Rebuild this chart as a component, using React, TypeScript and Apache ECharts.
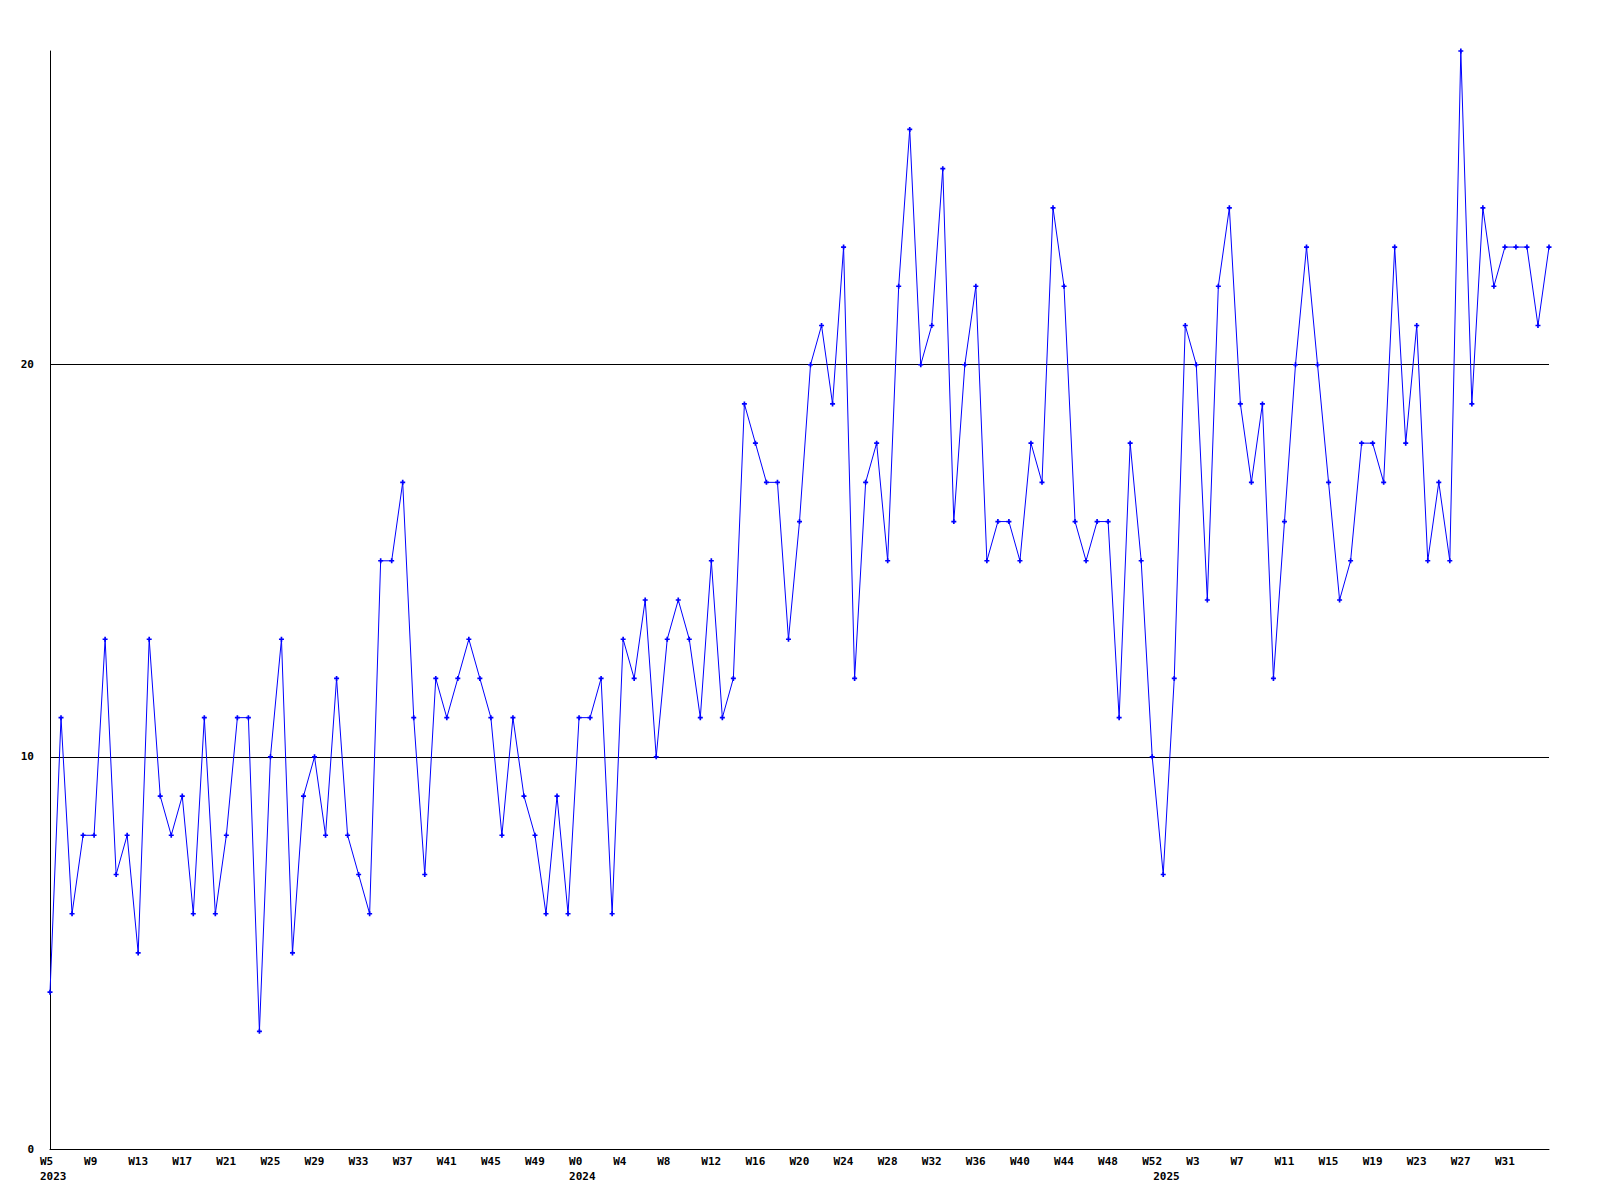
import React, { useEffect, useRef } from "react";
import * as echarts from "echarts";

// Week ranges shown on the x axis (one point per week)
const weekRanges = [
  { year: "2023", first: 5, last: 52 },
  { year: "2024", first: 0, last: 52 },
  { year: "2025", first: 0, last: 35 },
];

// Values, one per week
const values2023 = [
  4, 11, 6, 8, 8, 13, 7, 8, 5, 13, 9, 8, 9, 6, 11, 6, 8, 11, 11, 3, 10, 13, 5, 9,
  10, 8, 12, 8, 7, 6, 15, 15, 17, 11, 7, 12, 11, 12, 13, 12, 11, 8, 11, 9, 8, 6, 9, 6,
];
const values2024 = [
  11, 11, 12, 6, 13, 12, 14, 10, 13, 14, 13, 11, 15, 11, 12, 19, 18, 17, 17, 13,
  16, 20, 21, 19, 23, 12, 17, 18, 15, 22, 26, 20, 21, 25, 16, 20, 22, 15, 16, 16,
  15, 18, 17, 24, 22, 16, 15, 16, 16, 11, 18, 15, 10,
];
const values2025 = [
  7, 12, 21, 20, 14, 22, 24, 19, 17, 19, 12, 16, 20, 23, 20, 17, 14, 15, 18, 18,
  17, 23, 18, 21, 15, 17, 15, 28, 19, 24, 22, 23, 23, 23, 21, 23,
];

const yTicks = [0, 10, 20];
const yMax = 28;
const gridLines = [10, 20];

const categories: string[] = [];
const yearAtIndex: Record<number, string> = {};
weekRanges.forEach((r) => {
  yearAtIndex[categories.length] = r.year;
  for (let w = r.first; w <= r.last; w++) categories.push(r.year + "-W" + w);
});
const values = [...values2023, ...values2024, ...values2025];

const FONT = "'DejaVu Sans Mono', 'Liberation Mono', monospace";
const labelStyle = {
  fontFamily: FONT,
  fontWeight: "bold" as const,
  fontSize: 11,
  color: "#000",
};

export default function App() {
  const ref = useRef<HTMLDivElement>(null);
  useEffect(() => {
    if (!ref.current) return;
    const chart = echarts.init(ref.current, undefined, { renderer: "svg" });
    chart.setOption({
      animation: false,
      backgroundColor: "#fff",
      grid: {
        left: 50,
        right: 51,
        top: 51,
        bottom: 51,
        outerBoundsMode: "none",
      },
      xAxis: [
        {
          type: "category",
          data: categories,
          boundaryGap: false,
          axisLine: { show: true, lineStyle: { color: "#000", width: 1 } },
          axisTick: { show: false },
          splitLine: { show: false },
          axisLabel: {
            interval: (i: number) => i % 4 === 0 && i < categories.length - 1,
            margin: 7,
            formatter: (v: string) => "{a|" + v.split("-")[1] + "}",
            rich: { a: { ...labelStyle, width: 20, align: "left" } },
            ...labelStyle,
          },
        },
        {
          type: "category",
          data: categories,
          boundaryGap: false,
          position: "bottom",
          offset: 15,
          axisLine: { show: false },
          axisTick: { show: false },
          splitLine: { show: false },
          axisLabel: {
            interval: (i: number) => yearAtIndex[i] !== undefined,
            margin: 7,
            formatter: (_v: string, i: number) => "{a|" + (yearAtIndex[i] || "") + "}",
            rich: { a: { ...labelStyle, width: 20, align: "left" } },
            ...labelStyle,
          },
        },
      ],
      yAxis: {
        type: "value",
        min: 0,
        max: yMax,
        interval: 10,
        axisLine: { show: true, lineStyle: { color: "#000", width: 1 } },
        axisTick: { show: false },
        splitLine: { show: false },
        axisLabel: {
          margin: 16,
          showMaxLabel: false,
          formatter: (v: number) => (yTicks.includes(v) ? String(v) : ""),
          ...labelStyle,
        },
      },
      series: [
        {
          type: "line",
          data: values,
          xAxisIndex: 0,
          symbol: "path://M1,0H2V1H3V2H2V3H1V2H0V1H1Z",
          symbolSize: 5,
          showAllSymbol: true,
          lineStyle: { color: "#0000ff", width: 1 },
          itemStyle: { color: "#0000ff" },
          markLine: {
            silent: true,
            symbol: ["none", "none"],
            label: { show: false },
            lineStyle: { color: "#000", type: "solid", width: 1 },
            z: 1,
            data: gridLines.map((g) => ({ yAxis: g })),
          },
        },
      ],
    });
    return () => chart.dispose();
  }, []);
  return (
    <div
      ref={ref}
      style={{ position: "absolute", left: 0, top: 0, width: 1600, height: 1200, background: "#fff" }}
    />
  );
}
